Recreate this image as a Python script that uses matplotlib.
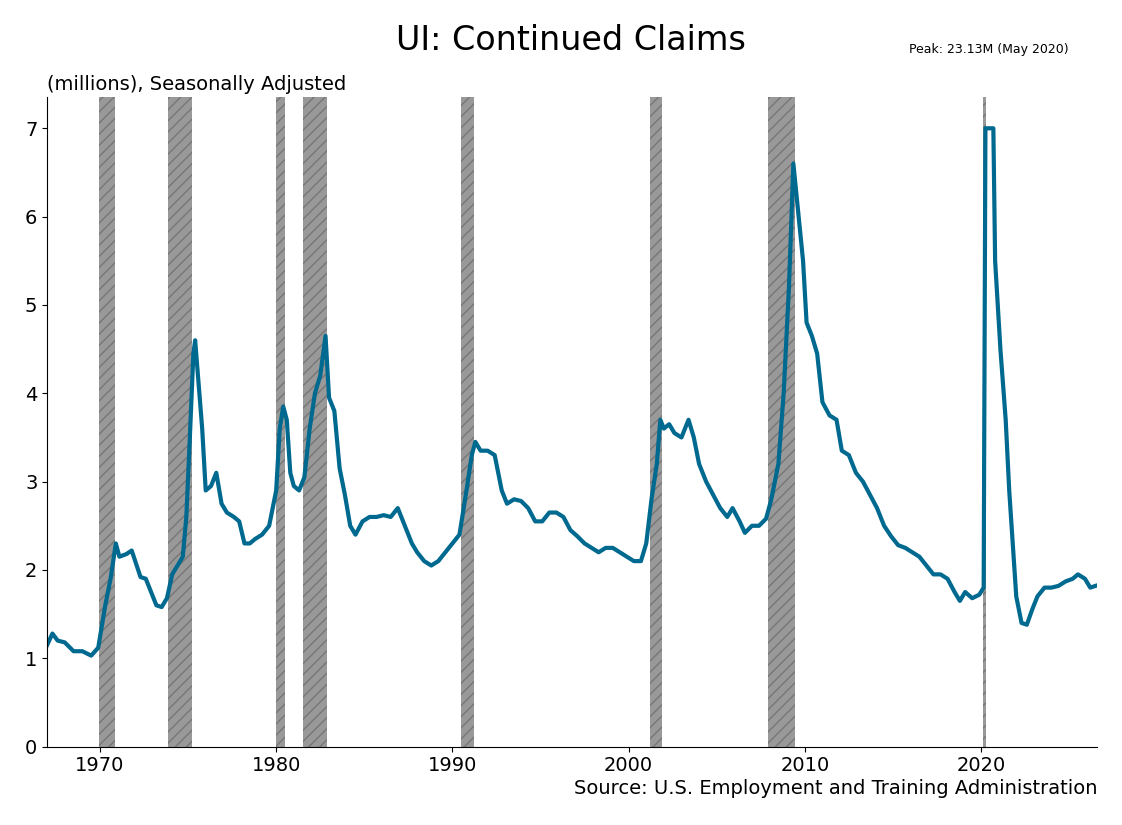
import numpy as np
import matplotlib.pyplot as plt

# approximate continued claims, millions
years = [1967.0, 1967.3, 1967.6, 1968.0, 1968.5, 1969.0, 1969.5, 1969.9, 1970.3, 1970.6, 1970.9,
         1971.1, 1971.5, 1971.8, 1972.0, 1972.3, 1972.6, 1972.9, 1973.2, 1973.5, 1973.8, 1974.1,
         1974.4, 1974.7, 1974.9, 1975.1, 1975.3, 1975.4, 1975.6, 1975.8, 1976.0, 1976.3, 1976.6,
         1976.9, 1977.2, 1977.6, 1977.9, 1978.2, 1978.5, 1978.8, 1979.2, 1979.6, 1980.0, 1980.2,
         1980.4, 1980.6, 1980.8, 1981.0, 1981.3, 1981.6, 1981.9, 1982.2, 1982.5, 1982.8, 1983.0,
         1983.3, 1983.6, 1983.9, 1984.2, 1984.5, 1984.9, 1985.3, 1985.7, 1986.1, 1986.5, 1986.9,
         1987.3, 1987.7, 1988.0, 1988.4, 1988.8, 1989.2, 1989.6, 1990.0, 1990.4, 1990.8, 1991.1,
         1991.3, 1991.6, 1992.0, 1992.4, 1992.8, 1993.1, 1993.5, 1993.9, 1994.3, 1994.7, 1995.1,
         1995.5, 1995.9, 1996.3, 1996.7, 1997.1, 1997.5, 1997.9, 1998.3, 1998.7, 1999.1, 1999.5,
         1999.9, 2000.3, 2000.7, 2001.0, 2001.3, 2001.6, 2001.8, 2002.0, 2002.3, 2002.6, 2003.0,
         2003.4, 2003.7, 2004.0, 2004.4, 2004.8, 2005.2, 2005.6, 2005.9, 2006.3, 2006.6, 2007.0,
         2007.4, 2007.8, 2008.1, 2008.5, 2008.8, 2009.1, 2009.35, 2009.6, 2009.9, 2010.1, 2010.4,
         2010.7, 2011.0, 2011.4, 2011.8, 2012.1, 2012.5, 2012.9, 2013.3, 2013.7, 2014.1, 2014.5,
         2014.9, 2015.3, 2015.7, 2016.1, 2016.5, 2016.9, 2017.3, 2017.7, 2018.1, 2018.5, 2018.8,
         2019.1, 2019.5, 2019.9, 2020.15, 2020.25, 2020.37, 2020.7, 2020.8, 2021.1, 2021.4,
         2021.6, 2021.8, 2022.0, 2022.3, 2022.6, 2022.9, 2023.2, 2023.6, 2024.0, 2024.4, 2024.8,
         2025.2, 2025.5, 2025.9, 2026.2, 2026.5]
claims = [1.15, 1.28, 1.20, 1.18, 1.08, 1.08, 1.03, 1.12, 1.6, 1.9, 2.3,
          2.15, 2.18, 2.22, 2.1, 1.92, 1.9, 1.75, 1.6, 1.58, 1.68, 1.95,
          2.05, 2.15, 2.6, 3.5, 4.45, 4.6, 4.1, 3.6, 2.9, 2.95, 3.1,
          2.75, 2.65, 2.6, 2.55, 2.3, 2.3, 2.35, 2.4, 2.5, 2.9, 3.6,
          3.85, 3.7, 3.1, 2.95, 2.9, 3.05, 3.6, 4.0, 4.2, 4.65, 3.95,
          3.8, 3.15, 2.85, 2.5, 2.4, 2.55, 2.6, 2.6, 2.62, 2.6, 2.7,
          2.5, 2.3, 2.2, 2.1, 2.05, 2.1, 2.2, 2.3, 2.4, 2.9, 3.3,
          3.45, 3.35, 3.35, 3.3, 2.9, 2.75, 2.8, 2.78, 2.7, 2.55, 2.55,
          2.65, 2.65, 2.6, 2.45, 2.38, 2.3, 2.25, 2.2, 2.25, 2.25, 2.2,
          2.15, 2.1, 2.1, 2.3, 2.8, 3.2, 3.7, 3.6, 3.65, 3.55, 3.5,
          3.7, 3.5, 3.2, 3.0, 2.85, 2.7, 2.6, 2.7, 2.55, 2.42, 2.5,
          2.5, 2.58, 2.8, 3.2, 4.0, 5.2, 6.6, 6.1, 5.5, 4.8, 4.65,
          4.45, 3.9, 3.75, 3.7, 3.35, 3.3, 3.1, 3.0, 2.85, 2.7, 2.5,
          2.38, 2.28, 2.25, 2.2, 2.15, 2.05, 1.95, 1.95, 1.9, 1.75, 1.65,
          1.75, 1.68, 1.72, 1.8, 18.0, 23.13, 12.0, 5.5, 4.5, 3.7,
          2.9, 2.3, 1.7, 1.4, 1.38, 1.55, 1.7, 1.8, 1.8, 1.82, 1.87,
          1.9, 1.95, 1.9, 1.8, 1.82]

rec_start = [1969.92, 1973.87, 1980.0, 1981.5, 1990.5, 2001.2, 2007.9, 2020.1]
rec_end = [1970.87, 1975.2, 1980.5, 1982.87, 1991.2, 2001.87, 2009.45, 2020.3]

fig, ax = plt.subplots(figsize=(11.22, 8.25), dpi=100)
fig.subplots_adjust(left=0.042, right=0.978, top=0.882, bottom=0.095)

for s, e in zip(rec_start, rec_end):
    ax.axvspan(s, e, facecolor='#999999', edgecolor='#777777', hatch='///', linewidth=0)

ax.plot(years, np.minimum(claims, 7.0), color='#00698f', lw=3)

ax.set_xlim(1967, 2026.6)
ax.set_ylim(0, 7.35)
ax.set_xticks([1970, 1980, 1990, 2000, 2010, 2020])
ax.set_yticks(range(8))
ax.tick_params(labelsize=14)
ax.spines['top'].set_visible(False)
ax.spines['right'].set_visible(False)

fig.text(0.509, 0.951, 'UI: Continued Claims', ha='center', va='center', fontsize=24)
ax.text(0, 1.005, '(millions), Seasonally Adjusted', transform=ax.transAxes,
        ha='left', va='bottom', fontsize=14)
fig.text(0.952, 0.940, 'Peak: 23.13M (May 2020)', ha='right', va='center', fontsize=9)
ax.text(1, -0.05, 'Source: U.S. Employment and Training Administration', transform=ax.transAxes,
        ha='right', va='top', fontsize=14)

fig.savefig('out.png')
